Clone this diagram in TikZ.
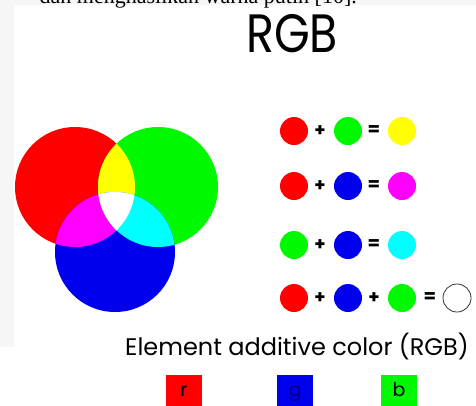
\documentclass[tikz,border=0pt]{standalone}
\usepackage{fontspec}
\setmainfont{Liberation Serif}
\newfontfamily\hand{Poppins}
\definecolor{vred}{HTML}{FF0000}
\definecolor{vgreen}{HTML}{00F800}
\definecolor{vblue}{HTML}{0000EE}
\definecolor{vyellow}{HTML}{FFFF00}
\definecolor{vmag}{HTML}{FF00FF}
\definecolor{vcyan}{HTML}{00FFFF}
\definecolor{panel}{HTML}{F6F6F6}
\begin{document}
\begin{tikzpicture}[x=1pt,y=-1pt,
  dot/.style={circle,minimum size=28pt,inner sep=0pt,outer sep=0pt},
  op/.style={font=\hand\bfseries\fontsize{18}{18}\selectfont,inner sep=0pt},
  sq/.style={minimum width=36pt,minimum height=40pt,inner sep=0pt,anchor=north west},
  lett/.style={anchor=base,inner sep=0pt,font=\hand\fontsize{19}{19}\selectfont}]
\useasboundingbox (0,0) rectangle (476,405);
\begin{scope}
\clip (0,0) rectangle (476,405);
\fill[panel] (0,0) rectangle (476,5);
\fill[panel] (0,0) rectangle (14,347);
\node[anchor=base east,inner sep=0pt,font=\fontsize{22}{22}\selectfont] (cap) at (357,3) {dan menghasilkan warna putih [10].};
% title
\node[anchor=base,inner sep=0pt,font=\hand\fontsize{54}{54}\selectfont] (title) at (292,52) {\scalebox{0.85}[1]{RGB}};
% Venn
\fill[vred] (75,187) circle[radius=60pt];
\fill[vgreen] (158,187) circle[radius=60pt];
\fill[vblue] (115,252) circle[radius=60pt];
\begin{scope}\clip (75,187) circle[radius=60pt]; \fill[vyellow] (158,187) circle[radius=60pt];\end{scope}
\begin{scope}\clip (75,187) circle[radius=60pt]; \fill[vmag] (115,252) circle[radius=60pt];\end{scope}
\begin{scope}\clip (158,187) circle[radius=60pt]; \fill[vcyan] (115,252) circle[radius=60pt];\end{scope}
\begin{scope}\clip (75,187) circle[radius=60pt]; \clip (158,187) circle[radius=60pt]; \fill[white] (115,252) circle[radius=60pt];\end{scope}
% equations
\node[dot,fill=vred] (a1) at (294,131) {};
\node[op] (p1) at (320,131) {+};
\node[dot,fill=vgreen] (b1) at (348,131) {};
\node[op] (e1) at (374,131) {=};
\node[dot,fill=vyellow] (c1) at (402,131) {};

\node[dot,fill=vred] (a2) at (294,186) {};
\node[op] (p2) at (320,186) {+};
\node[dot,fill=vblue] (b2) at (348,186) {};
\node[op] (e2) at (374,186) {=};
\node[dot,fill=vmag] (c2) at (402,186) {};

\node[dot,fill=vgreen] (a3) at (294,245) {};
\node[op] (p3) at (320,245) {+};
\node[dot,fill=vblue] (b3) at (348,245) {};
\node[op] (e3) at (374,245) {=};
\node[dot,fill=vcyan] (c3) at (402,245) {};

\node[dot,fill=vred] (a4) at (294,298) {};
\node[op] (p4) at (320,298) {+};
\node[dot,fill=vblue] (b4) at (348,298) {};
\node[op] (q4) at (374,298) {+};
\node[dot,fill=vgreen] (c4) at (402,298) {};
\node[op] (e4) at (430,298) {=};
\node[dot,draw=black!80,line width=0.8pt,fill=white] (w4) at (457,298) {};
% caption
\node[anchor=base west,inner sep=0pt,font=\hand\fontsize{24}{24}\selectfont] (elem) at (125,355) {Element additive color (RGB)};
% squares
\node[sq,fill=vred] (sr) at (166,375) {};
\node[sq,fill=vblue] (sg) at (277,375) {};
\node[sq,fill=vgreen] (sb) at (381,375) {};
\node[lett] (lr) at (184,396) {r};
\node[lett,text=blue!50!black] (lg) at (295,396) {g};
\node[lett] (lb) at (399,396) {b};
\end{scope}
\end{tikzpicture}
\end{document}
